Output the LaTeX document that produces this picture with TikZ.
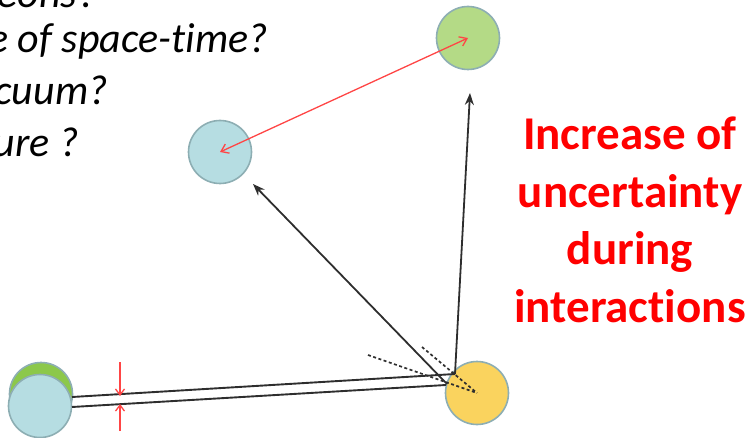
\documentclass[tikz,border=0pt]{standalone}
\usepackage{fontspec}
\setmainfont{Carlito}[Ligatures=NoCommon]
\usetikzlibrary{arrows.meta}
\definecolor{cblue}{HTML}{B6DDE2}
\definecolor{cgreenA}{HTML}{B4DA86}
\definecolor{cgreenB}{HTML}{8CC84B}
\definecolor{cyellow}{HTML}{FAD35E}
\definecolor{cedge}{HTML}{8DAEB3}
\definecolor{cline}{HTML}{2E2E2E}
\definecolor{cred}{HTML}{FF4545}
\tikzset{
  ball/.style={circle, minimum size=63pt, inner sep=0pt, draw=cedge, line width=1.6pt},
  qtext/.style={anchor=base east, inner sep=0pt, font=\itshape\fontsize{42}{50}\selectfont},
  track/.style={draw=cline, line width=1.9pt},
  blackarrow/.style={draw=cline, line width=1.8pt, -{Stealth[length=12pt,width=9pt]}},
  redarrow/.style={draw=cred, line width=1.3pt},
  dashline/.style={draw=cline, line width=1.7pt, dashed, dash pattern=on 3pt off 2.5pt}
}
\begin{document}
\begin{tikzpicture}[x=1pt,y=-1pt]
\useasboundingbox (0,0) rectangle (751,438);
\clip (0,0) rectangle (751,438);

% question text fragments
\node[qtext] (q1) at (97,8) {cleons?};
\node[qtext] (q2) at (268,53) {e of space-time?};
\node[qtext] (q3) at (108,105) {cuum?};
\node[qtext] (q4) at (79,157) {ure ?};

% red text
\node[anchor=base, align=center, inner sep=0pt, text=red,
      font=\bfseries\fontsize{47}{57.5}\selectfont] (msg) at (630,322)
      {Increase of\\uncertainty\\during\\interactions};

% circles
\node[ball, fill=cblue] (blueA) at (220,152) {};
\node[ball, fill=cgreenA] (greenA) at (468,38) {};
\node[ball, fill=cyellow] (yellow) at (477,393) {};
\node[ball, fill=cgreenB] (greenB) at (41,394) {};
\node[ball, fill=cblue] (blueB) at (40,406) {};

% coordinates
\coordinate (u0) at (72,397);
\coordinate (u1) at (455,374);
\coordinate (l0) at (72,407);
\coordinate (l1) at (446,385);
\coordinate (s1) at (447,384);
\coordinate (t1) at (253,184);
\coordinate (s2) at (455,374);
\coordinate (t2) at (470,93);
\coordinate (d1) at (368,355);
\coordinate (d2) at (422,347);
\coordinate (r1a) at (120,362);
\coordinate (r1b) at (120,396);
\coordinate (r2a) at (120,431);
\coordinate (r2b) at (120,404);

% dashed lines
\draw[dashline] (d1) -- (yellow.center);
\draw[dashline] (d2) -- (yellow.center);

% tracks
\draw[track] (u0) -- (u1);
\draw[track] (l0) -- (l1);

% black arrows
\draw[blackarrow] (s1) -- (t1);
\draw[blackarrow] (s2) -- (t2);

% red arrows
\draw[redarrow, {Straight Barb[length=7pt,width=10pt]}-{Straight Barb[length=7pt,width=10pt]}] (blueA.center) -- (greenA.center);
\draw[redarrow, -{Straight Barb[length=6pt,width=9pt]}] (r1a) -- (r1b);
\draw[redarrow, -{Straight Barb[length=6pt,width=9pt]}] (r2a) -- (r2b);
\end{tikzpicture}
\end{document}
